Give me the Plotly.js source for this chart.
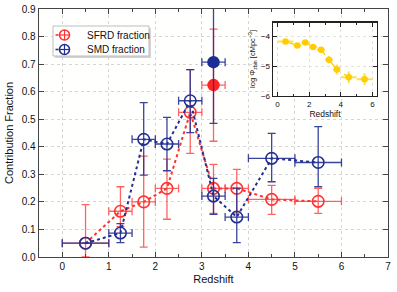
<!DOCTYPE html>
<html>
<head>
<meta charset="utf-8">
<script src="https://cdn.plot.ly/plotly-3.0.1.min.js"></script>
<style>html,body{margin:0;padding:0;background:#fff;}#chart{width:397px;height:292px;}</style>
</head>
<body>
<div id="chart"></div>
<script>
// Redshift bins
const redshift = [0.5, 1.25, 1.75, 2.25, 2.75, 3.25, 3.75, 4.5, 5.5];
const zHalfWidth = [0.5, 0.25, 0.25, 0.25, 0.25, 0.25, 0.25, 0.5, 0.5];

// SFRD fraction
const sfrd = [0.05, 0.166, 0.20, 0.249, 0.525, 0.249, 0.249, 0.209, 0.202];
const sfrdUpper = [0.19, 0.255, 0.366, 0.355, 0.68, 0.336, 0.318, 0.26, 0.249];
const sfrdLower = [0.0, 0.11, 0.036, 0.137, 0.376, 0.158, 0.16, 0.155, 0.158];

// SMD fraction
const smd = [0.05, 0.087, 0.427, 0.41, 0.567, 0.221, 0.145, 0.358, 0.343];
const smdUpper = [0.05, 0.121, 0.56, 0.507, 0.68, 0.285, 0.25, 0.449, 0.473];
const smdLower = [0.05, 0.052, 0.297, 0.313, 0.451, 0.155, 0.052, 0.273, 0.255];

// Filled points at z = 3.25
const filledZ = [3.25];
const filledHalf = [0.25];
const filledSfrd = [0.624], filledSfrdUp = [0.827], filledSfrdLo = [0.42];
const filledSmd = [0.707], filledSmdUp = [0.96], filledSmdLo = [0.485];

// Inset: log Phi
const logPhi = [-4.17, -4.30, -4.20, -4.35, -4.44, -4.78, -5.11, -5.37, -5.44];
const logPhiErr = [0.06, 0.07, 0.06, 0.07, 0.08, 0.12, 0.17, 0.2, 0.2];

// Legend labels
const legendLabels = ['SFRD fraction', 'SMD fraction'];

const RED = 'rgb(255,50,50)';
const REDERR = 'rgba(255,60,60,0.8)';
const BLUE = 'rgb(35,48,145)';
const BLUEERR = 'rgba(35,48,145,0.9)';
const GOLD = 'rgb(255,205,0)';
const GOLDERR = 'rgba(255,210,30,0.75)';
const legendColors = [RED, BLUE];

const diff = (a, b) => a.map((v, i) => v - b[i]);

const traces = [
  {
    x: redshift, y: sfrd, name: legendLabels[0], type: 'scatter', mode: 'lines+markers', showlegend: false,
    line: {color: RED, dash: 'dot', width: 2},
    marker: {symbol: 'circle-open', size: 11.5, color: RED, line: {width: 1.6, color: RED}},
    error_y: {type: 'data', symmetric: false, array: diff(sfrdUpper, sfrd), arrayminus: diff(sfrd, sfrdLower), color: REDERR, thickness: 1.3, width: 4},
    error_x: {type: 'data', array: zHalfWidth, color: REDERR, thickness: 1.3, width: 4},
    xaxis: 'x', yaxis: 'y'
  },
  {
    x: redshift, y: smd, name: legendLabels[1], type: 'scatter', mode: 'lines+markers', showlegend: false,
    line: {color: BLUE, dash: 'dot', width: 2},
    marker: {symbol: 'circle-open', size: 11.5, color: BLUE, line: {width: 1.6, color: BLUE}},
    error_y: {type: 'data', symmetric: false, array: diff(smdUpper, smd), arrayminus: diff(smd, smdLower), color: BLUEERR, thickness: 1.3, width: 4},
    error_x: {type: 'data', array: zHalfWidth, color: BLUEERR, thickness: 1.3, width: 4},
    xaxis: 'x', yaxis: 'y'
  },
  {
    x: filledZ, y: filledSfrd, showlegend: false, type: 'scatter', mode: 'markers',
    marker: {symbol: 'circle', size: 12.5, color: 'rgb(255,35,35)'},
    error_y: {type: 'data', symmetric: false, array: diff(filledSfrdUp, filledSfrd), arrayminus: diff(filledSfrd, filledSfrdLo), color: REDERR, thickness: 1.3, width: 4},
    error_x: {type: 'data', array: filledHalf, color: REDERR, thickness: 1.3, width: 4},
    xaxis: 'x', yaxis: 'y'
  },
  {
    x: filledZ, y: filledSmd, showlegend: false, type: 'scatter', mode: 'markers',
    marker: {symbol: 'circle', size: 12.5, color: 'rgb(28,45,150)'},
    error_y: {type: 'data', symmetric: false, array: diff(filledSmdUp, filledSmd), arrayminus: diff(filledSmd, filledSmdLo), color: BLUEERR, thickness: 1.3, width: 4},
    error_x: {type: 'data', array: filledHalf, color: BLUEERR, thickness: 1.3, width: 4},
    xaxis: 'x', yaxis: 'y'
  },
  {
    x: redshift, y: logPhi, showlegend: false, type: 'scatter', mode: 'lines+markers',
    line: {color: GOLD, dash: 'dash', width: 1.3},
    marker: {symbol: 'circle', size: 6.5, color: GOLD},
    error_y: {type: 'data', array: logPhiErr, color: GOLDERR, thickness: 2, width: 0},
    error_x: {type: 'data', array: zHalfWidth, color: GOLDERR, thickness: 2, width: 0},
    xaxis: 'x2', yaxis: 'y2'
  }
];

// pixel -> paper helpers for the legend box (plot area: x 39..388, y 9..257)
const PX = px => (px - 39) / 349;
const PY = py => (257 - py) / 248;

const FONT = 'Liberation Sans, Arial, Helvetica, sans-serif';
const shapes = [
  {type: 'rect', xref: 'paper', yref: 'paper', x0: PX(55), x1: PX(151), y0: PY(58), y1: PY(28), fillcolor: '#d4d4d4', line: {width: 0}},
  {type: 'rect', xref: 'paper', yref: 'paper', x0: PX(53), x1: PX(149), y0: PY(56), y1: PY(26), fillcolor: 'white', line: {width: 1, color: '#bdbdbd'}}
];
const annotations = [{
  xref: 'paper', yref: 'paper', x: 0.612, y: 0.797, xanchor: 'center', yanchor: 'middle',
  textangle: -90, showarrow: false,
  text: 'log Φ<sub>zbin</sub> [cMpc<sup>−3</sup>]',
  font: {family: FONT, size: 7.5, color: '#111'}
}];
legendLabels.forEach((label, i) => {
  const cy = 35 + i * 14.5;
  const c = legendColors[i];
  shapes.push({type: 'line', xref: 'paper', yref: 'paper', x0: PX(55.5), x1: PX(58.5), y0: PY(cy), y1: PY(cy), line: {color: c, width: 1.6}});
  shapes.push({type: 'circle', xref: 'paper', yref: 'paper', xsizemode: 'pixel', ysizemode: 'pixel',
    xanchor: PX(64.5), yanchor: PY(cy), x0: -5, x1: 5, y0: -5, y1: 5, line: {color: c, width: 1.6}});
  shapes.push({type: 'line', xref: 'paper', yref: 'paper', x0: PX(59.5), x1: PX(69.5), y0: PY(cy), y1: PY(cy), line: {color: c, width: 1.2}});
  shapes.push({type: 'line', xref: 'paper', yref: 'paper', x0: PX(64.5), x1: PX(64.5), y0: PY(cy - 5), y1: PY(cy + 5), line: {color: c, width: 1.2}});
  annotations.push({xref: 'paper', yref: 'paper', x: PX(85), y: PY(cy), xanchor: 'left', yanchor: 'middle',
    showarrow: false, text: label, font: {family: FONT, size: 10, color: '#111'}});
});

const layout = {
  width: 397, height: 292,
  margin: {l: 39, r: 9, t: 9, b: 35},
  paper_bgcolor: 'white',
  plot_bgcolor: 'rgb(255,255,254)',
  font: {family: FONT, size: 10, color: '#111'},
  showlegend: false,
  xaxis: {
    range: [-0.5, 7], domain: [0, 1],
    tickvals: [0, 1, 2, 3, 4, 5, 6, 7],
    ticks: 'inside', ticklen: 5, tickwidth: 1, tickcolor: '#444',
    minor: {dtick: 0.5, tick0: 0, ticks: 'inside', ticklen: 3, tickcolor: '#444', showgrid: false},
    showline: true, linecolor: '#444', linewidth: 1.3, mirror: 'ticks',
    showgrid: true, gridcolor: '#d6d6d6', griddash: 'dot', gridwidth: 1,
    zeroline: false,
    tickfont: {size: 10},
    title: {text: 'Redshift', font: {size: 11}, standoff: 4}
  },
  yaxis: {
    range: [0, 0.9], domain: [0, 1],
    dtick: 0.1, tick0: 0, tickformat: '.1f',
    ticks: 'inside', ticklen: 5, tickwidth: 1, tickcolor: '#444',
    showline: true, linecolor: '#444', linewidth: 1.3, mirror: 'ticks',
    showgrid: true, gridcolor: '#d6d6d6', griddash: 'dot', gridwidth: 1,
    zeroline: false,
    tickfont: {size: 10},
    title: {text: 'Contribution Fraction', font: {size: 11}, standoff: 6}
  },
  xaxis2: {
    domain: [0.670, 0.969], anchor: 'y2', range: [-0.3, 6.3],
    tickvals: [0, 2, 4, 6],
    ticks: 'inside', ticklen: 4, tickcolor: '#222',
    minor: {dtick: 1, tick0: 0, ticks: 'inside', ticklen: 2, tickcolor: '#222', showgrid: false},
    showline: true, linecolor: '#222', linewidth: 1.2, mirror: 'ticks',
    showgrid: true, gridcolor: '#e2e2e2', griddash: 'dot',
    zeroline: false,
    tickfont: {size: 8},
    title: {text: 'Redshift', font: {size: 8.5}, standoff: 2}
  },
  yaxis2: {
    domain: [0.649, 0.945], anchor: 'x2', range: [-6.005, -3.53],
    tickvals: [-4, -5, -6],
    ticks: 'inside', ticklen: 4, tickcolor: '#222',
    showline: true, linecolor: '#222', linewidth: 1.2, mirror: 'ticks',
    showgrid: true, gridcolor: '#e2e2e2', griddash: 'dot',
    zeroline: false,
    tickfont: {size: 8}
  },
  shapes: shapes,
  annotations: annotations
};

Plotly.newPlot('chart', traces, layout, {staticPlot: true, displayModeBar: false});
</script>
</body>
</html>
